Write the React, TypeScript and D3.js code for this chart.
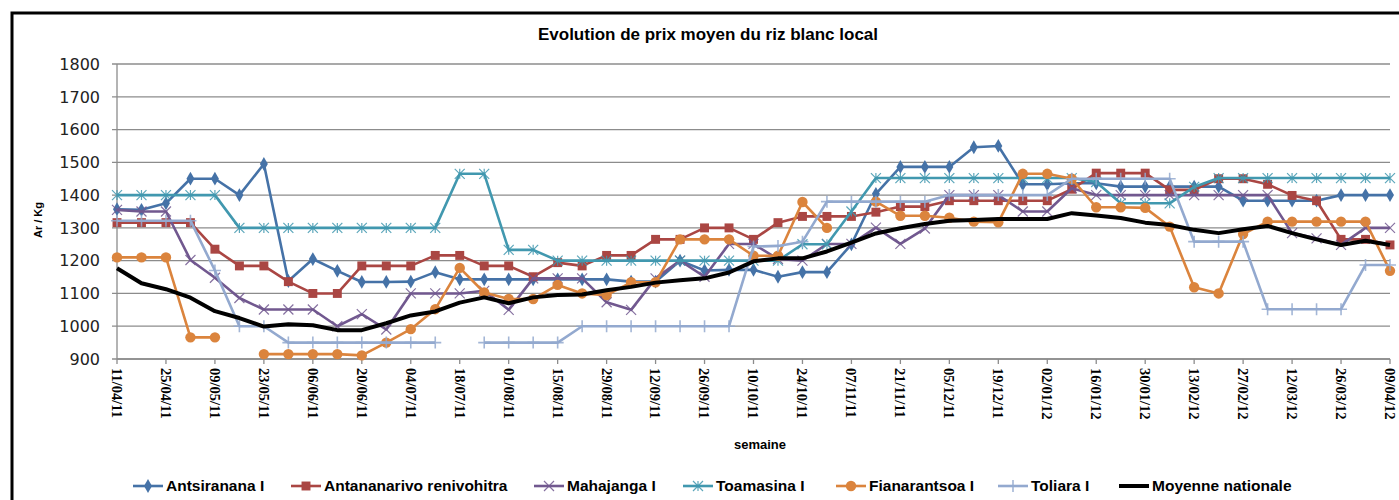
import React from 'react';
import * as d3 from 'd3';

// semaines (one point per week)
const weeks = [
  '11/04/11', '18/04/11', '25/04/11', '02/05/11', '09/05/11', '16/05/11', '23/05/11', '30/05/11',
  '06/06/11', '13/06/11', '20/06/11', '27/06/11', '04/07/11', '11/07/11', '18/07/11', '25/07/11',
  '01/08/11', '08/08/11', '15/08/11', '22/08/11', '29/08/11', '05/09/11', '12/09/11', '19/09/11',
  '26/09/11', '03/10/11', '10/10/11', '17/10/11', '24/10/11', '31/10/11', '07/11/11', '14/11/11',
  '21/11/11', '28/11/11', '05/12/11', '12/12/11', '19/12/11', '26/12/11', '02/01/12', '09/01/12',
  '16/01/12', '23/01/12', '30/01/12', '06/02/12', '13/02/12', '20/02/12', '27/02/12', '05/03/12',
  '12/03/12', '19/03/12', '26/03/12', '02/04/12', '09/04/12',
];

const antsiranana = [
  1357, 1355, 1375, 1450, 1450, 1400, 1495, 1138, 1205, 1169, 1135, 1135, 1136, 1165, 1143, 1143,
  1143, 1143, 1143, 1143, 1143, 1136, 1136, 1200, 1170, 1172, 1172, 1151, 1165, 1165, 1250, 1404,
  1486, 1486, 1486, 1546, 1550, 1433, 1433, 1436, 1436, 1426, 1426, 1426, 1426, 1426, 1383, 1383,
  1383, 1383, 1400, 1400, 1400,
];
const antananarivo = [
  1316, 1316, 1316, 1316, 1235, 1184, 1184, 1136, 1100, 1100, 1184, 1184, 1184, 1216, 1216, 1184,
  1184, 1151, 1194, 1184, 1216, 1216, 1265, 1265, 1300, 1300, 1265, 1316, 1335, 1335, 1335, 1348,
  1365, 1365, 1383, 1383, 1383, 1383, 1383, 1418, 1467, 1467, 1467, 1416, 1416, 1450, 1450, 1433,
  1399, 1383, 1265, 1265, 1248,
];
const mahajanga = [
  1355, 1350, 1350, 1202, 1148, 1086, 1051, 1051, 1051, 1000, 1037, 990, 1100, 1100, 1100, 1108,
  1050, 1146, 1146, 1146, 1073, 1050, 1146, 1200, 1151, 1251, 1251, 1205, 1200, 1251, 1251, 1301,
  1251, 1298, 1400, 1400, 1400, 1350, 1350, 1421, 1400, 1400, 1400, 1400, 1400, 1400, 1400, 1400,
  1284, 1268, 1248, 1300, 1300,
];
const toamasina = [
  1400, 1400, 1400, 1400, 1400, 1300, 1300, 1300, 1300, 1300, 1300, 1300, 1300, 1300, 1465, 1465,
  1233, 1233, 1200, 1200, 1200, 1200, 1200, 1200, 1200, 1200, 1200, 1200, 1250, 1250, 1350, 1452,
  1452, 1452, 1452, 1452, 1452, 1452, 1452, 1452, 1440, 1375, 1375, 1375, 1425, 1452, 1452, 1452,
  1452, 1452, 1452, 1452, 1452,
];
const fianarantsoa = [
  1210, 1210, 1210, 966, 966, null, 915, 915, 915, 915, 911, 950, 991, 1052, 1178, 1103,
  1083, 1083, 1126, 1100, 1095, 1134, 1134, 1265, 1265, 1265, 1215, 1215, 1379, 1300, null, 1380,
  1337, 1337, 1331, 1319, 1317, 1465, 1465, 1450, 1363, 1363, 1361, 1304, 1119, 1100, 1281, 1319,
  1319, 1319, 1319, 1319, 1169,
];
const toliara = [
  1322, 1322, 1322, 1322, 1170, 1000, 1000, 950, 950, 950, 950, 950, 950, 950, null, 950,
  950, 950, 950, 1000, 1000, 1000, 1000, 1000, 1000, 1000, 1243, 1245, 1258, 1380, 1380, 1380,
  1380, 1380, 1400, 1400, 1400, 1400, 1400, 1450, 1450, 1450, 1450, 1450, 1258, 1258, 1258, 1052,
  1052, 1052, 1052, 1187, 1187,
];
const moyenne = [
  1177, 1131, 1113, 1087, 1046, 1025, 999, 1006, 1003, 988, 988, 1009, 1033, 1045, 1072, 1088,
  1070, 1088, 1095, 1097, 1110, 1120, 1133, 1140, 1146, 1164, 1198, 1207, 1207, 1228, 1255, 1283,
  1299, 1312, 1322, 1324, 1327, 1327, 1327, 1345, 1338, 1330, 1316, 1309, 1294, 1284, 1296, 1306,
  1284, 1265, 1248, 1261, 1248,
];

const seriesNames = [
  'Antsiranana I', 'Antananarivo renivohitra', 'Mahajanga I', 'Toamasina I',
  'Fianarantsoa I', 'Toliara I', 'Moyenne nationale',
];
const seriesValues = [antsiranana, antananarivo, mahajanga, toamasina, fianarantsoa, toliara, moyenne];
const seriesColors = ['#4572A7', '#AA4643', '#71588F', '#4198AF', '#DB843D', '#93A9CF', '#000000'];
const seriesMarkers = ['diamond', 'square', 'x', 'star', 'circle', 'plus', 'none'];

// legend layout (left of the sample line for each item)
const legendX = [133, 291, 534, 683, 836, 998, 1119];

const W = 1399;
const H = 500;

const Marker = ({ kind, x, y, color }) => {
  if (kind === 'diamond') {
    return <path d={d3.symbol(d3.symbolDiamond, 55)()} transform={`translate(${x},${y})`} fill={color} />;
  }
  if (kind === 'square') {
    return <path d={d3.symbol(d3.symbolSquare, 80)()} transform={`translate(${x},${y})`} fill={color} />;
  }
  if (kind === 'circle') {
    return <circle cx={x} cy={y} r={5.2} fill={color} />;
  }
  const r = 5;
  let d = '';
  if (kind === 'x' || kind === 'star') d += `M${x - r},${y - r}L${x + r},${y + r}M${x - r},${y + r}L${x + r},${y - r}`;
  if (kind === 'star') d += `M${x},${y - r}L${x},${y + r}`;
  if (kind === 'plus') d += `M${x - r - 1},${y}L${x + r + 1},${y}M${x},${y - r - 1}L${x},${y + r + 1}`;
  return <path d={d} stroke={color} strokeWidth={kind === 'plus' ? 1.6 : 1.2} fill="none" opacity={0.85} />;
};

export default function App() {
  const x = d3.scalePoint().domain(weeks).range([117, 1390]);
  const y = d3.scaleLinear().domain([900, 1800]).range([359, 64]);
  const yTicks = y.ticks(9);

  const line = d3.line()
    .defined((d) => d[1] != null)
    .x((d) => x(d[0]))
    .y((d) => y(d[1]));

  return (
    <svg width={W} height={H} style={{ position: 'absolute', left: 0, top: 0, background: '#fff' }}>
      <rect x={12} y={13} width={W + 20} height={H + 20} fill="#fff" stroke="#000" strokeWidth={3} />

      <text x={708} y={40} textAnchor="middle" fontFamily="Liberation Sans, Arial" fontWeight="bold" fontSize={17}>
        Evolution de prix moyen du riz blanc local
      </text>

      {/* gridlines + y axis */}
      {yTicks.map((t) => (
        <g key={t}>
          <line x1={112} x2={1390} y1={y(t)} y2={y(t)} stroke="#8c8c8c" strokeWidth={1.3} />
          <text x={100} y={y(t)} dy="0.36em" textAnchor="end" fontFamily="DejaVu Sans" fontSize={16} fill="#222">
            {t}
          </text>
        </g>
      ))}
      <line x1={117} x2={117} y1={64} y2={359} stroke="#8c8c8c" strokeWidth={1.3} />
      <text transform="translate(42,220) rotate(-90)" textAnchor="middle" fontFamily="Liberation Sans, Arial" fontWeight="bold" fontSize={11}>
        Ar / Kg
      </text>

      {/* x axis */}
      <line x1={117} x2={1390} y1={359} y2={359} stroke="#8c8c8c" strokeWidth={1.3} />
      {weeks.map((w, i) => (i % 2 === 0 ? (
        <g key={w}>
          <line x1={x(w)} x2={x(w)} y1={359} y2={364} stroke="#8c8c8c" strokeWidth={1.3} />
          <text transform={`translate(${x(w)},368) rotate(90)`} dy="0.35em" fontFamily="Liberation Serif, Times New Roman" fontWeight="bold" fontSize={14.5}>
            {w}
          </text>
        </g>
      ) : null))}
      <text x={760} y={449} textAnchor="middle" fontFamily="Liberation Sans, Arial" fontWeight="bold" fontSize={13}>
        semaine
      </text>

      {/* series */}
      {seriesValues.map((vals, s) => {
        const pts = vals.map((v, i) => [weeks[i], v]);
        return (
          <g key={seriesNames[s]}>
            <path d={line(pts)} fill="none" stroke={seriesColors[s]} strokeWidth={s === 6 ? 4 : 2.6} strokeLinejoin="round" />
            {seriesMarkers[s] !== 'none' && pts.filter((p) => p[1] != null).map((p, i) => (
              <Marker key={i} kind={seriesMarkers[s]} x={x(p[0])} y={y(p[1])} color={seriesColors[s]} />
            ))}
          </g>
        );
      })}

      {/* legend */}
      {seriesNames.map((n, s) => (
        <g key={n}>
          <line x1={legendX[s]} x2={legendX[s] + 30} y1={486} y2={486} stroke={seriesColors[s]} strokeWidth={s === 6 ? 4 : 2.6} />
          {seriesMarkers[s] !== 'none' && <Marker kind={seriesMarkers[s]} x={legendX[s] + 15} y={486} color={seriesColors[s]} />}
          <text x={legendX[s] + 33} y={491} fontFamily="Liberation Sans, Arial" fontWeight="bold" fontSize={15.5}>
            {n}
          </text>
        </g>
      ))}
    </svg>
  );
}
